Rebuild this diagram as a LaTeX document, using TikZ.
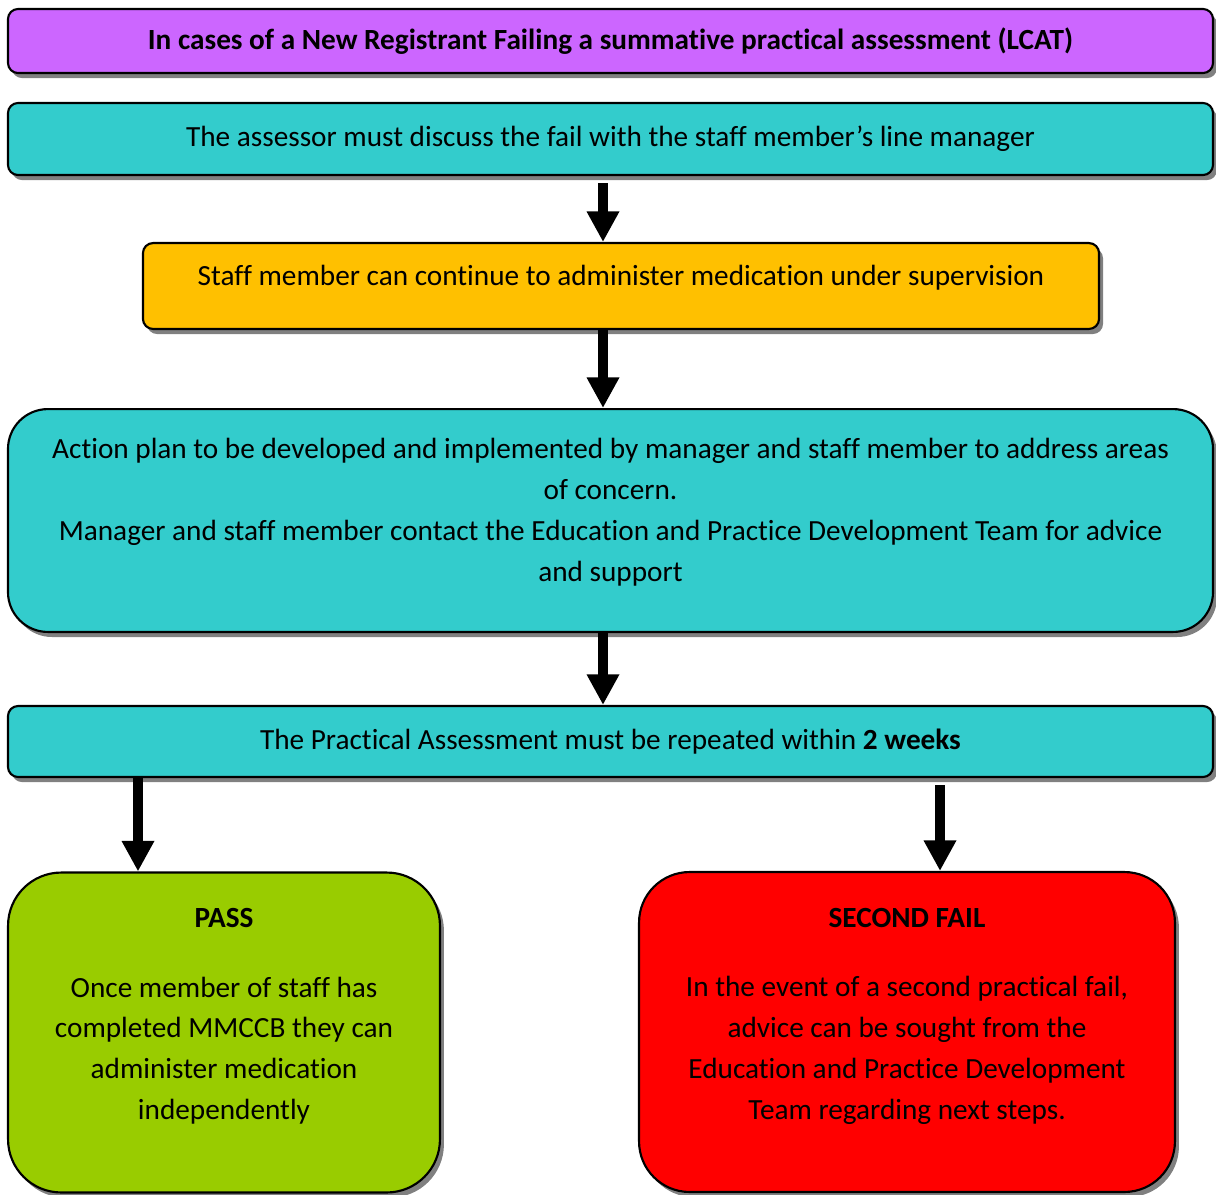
\documentclass[tikz,border=0pt]{standalone}
\usepackage{fontspec}
\setmainfont{Carlito}[Ligatures=CommonOff]
\usetikzlibrary{arrows.meta,shadows}
\definecolor{titlepurple}{HTML}{CC66FF}
\definecolor{stepcyan}{HTML}{33CCCC}
\definecolor{stepamber}{HTML}{FFC000}
\definecolor{passgreen}{HTML}{99CC00}
\definecolor{failred}{HTML}{FF0000}
\newcommand{\padbelow}[1]{\\[#1]\mbox{}}

\begin{document}
\begin{tikzpicture}[x=0.376pt, y=-0.376pt,
    box/.style = {draw, thick, rounded corners=3.8pt, align=center, inner sep=0pt,
        font=\fontsize{11}{15.4}\selectfont,
        drop shadow={shadow xshift=1.5pt, shadow yshift=-1.9pt, fill=black!50, opacity=1}},
    wide/.style = {box, minimum width=453.1pt},
    flow/.style = {line width=3.8pt, -{Triangle[width=11.5pt,length=11.5pt]}}]
    \useasboundingbox (0,0) rectangle (1216,1194);

    \node[wide, fill=titlepurple, minimum height=24.1pt, font=\fontsize{11}{15.4}\selectfont\bfseries] (title) at (610.5,41)
        {In cases of a New Registrant Failing a summative practical assessment (LCAT)};
    \node[wide, fill=stepcyan, minimum height=27.1pt] (assess) at (610.5,139)
        {The assessor must discuss the fail with the staff member’s line manager};
    \node[box, fill=stepamber, minimum width=359.5pt, minimum height=32.3pt] (supervise) at (621,286)
        {Staff member can continue to administer medication under supervision\padbelow{-7.6pt}};
    \node[wide, fill=stepcyan, minimum height=83.8pt, rounded corners=15pt] (plan) at (610.5,520.5)
        {Action plan to be developed and implemented by manager and staff member to address areas\\
         of concern.\\
         Manager and staff member contact the Education and Practice Development Team for advice\\
         and support\padbelow{-7.6pt}};
    \node[wide, fill=stepcyan, minimum height=26.7pt] (repeat) at (610.5,741.5)
        {The Practical Assessment must be repeated within \textbf{2 weeks}};
    \node[box, fill=passgreen, minimum width=162.4pt, minimum height=120.3pt, rounded corners=20pt] (pass) at (224,1032.5)
        {\textbf{PASS}\\[10.6pt]
         Once member of staff has\\
         completed MMCCB they can\\
         administer medication\\
         independently\padbelow{-1.7pt}};
    \node[box, fill=failred, minimum width=201.5pt, minimum height=120.3pt, rounded corners=19pt] (fail) at (907,1032)
        {\textbf{SECOND FAIL}\\[10.6pt]
         In the event of a second practical fail,\\
         advice can be sought from the\\
         Education and Practice Development\\
         Team regarding next steps.\padbelow{-1.7pt}};

    \coordinate (mid) at (603,0);
    \coordinate (left) at (138,0);
    \coordinate (right) at (940,0);

    \path[flow] ([yshift=-2.6pt]assess.south -| mid) edge (supervise.north -| mid);
    \path[flow] (supervise.south -| mid) edge (plan.north -| mid);
    \path[flow] (plan.south -| mid) edge (repeat.north -| mid);
    \path[flow] (repeat.south -| left) edge (pass.north -| left);
    \path[flow] ([yshift=-2.6pt]repeat.south -| right) edge (fail.north -| right);
\end{tikzpicture}
\end{document}
